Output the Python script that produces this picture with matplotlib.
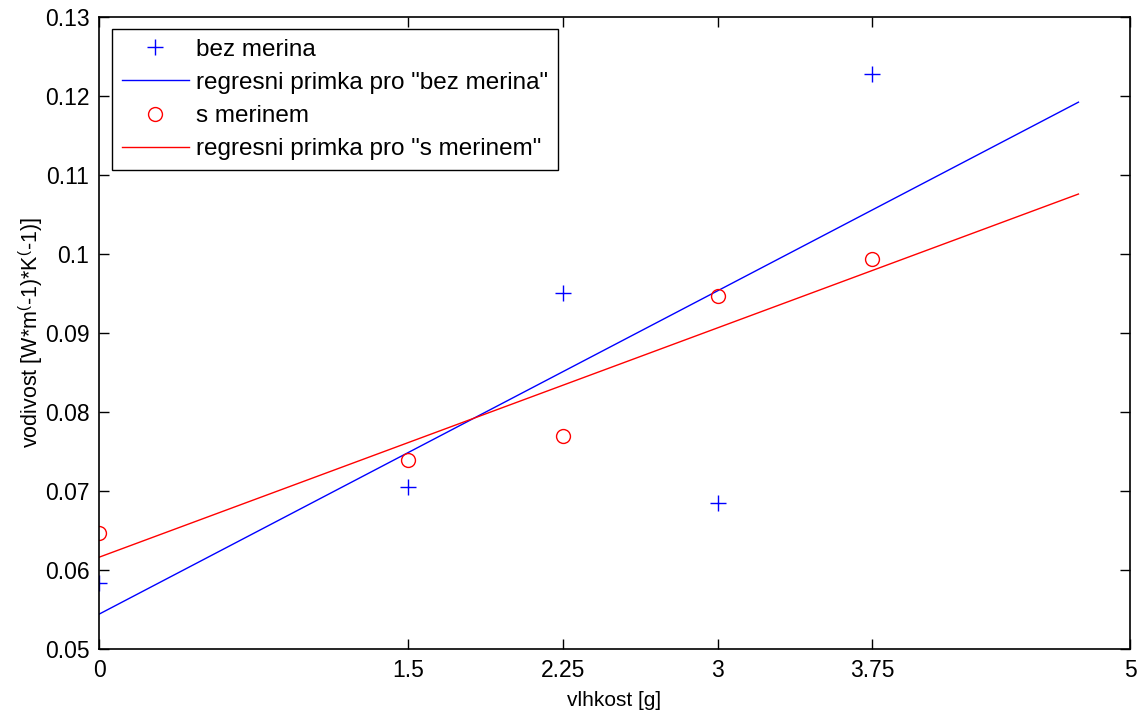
import numpy as np
import matplotlib
matplotlib.use("Agg")
import matplotlib.pyplot as plt

# Data
x = [0, 1.5, 2.25, 3, 3.75]
bez_merina = [0.0584, 0.0705, 0.0951, 0.0685, 0.1228]
s_merinem = [0.0647, 0.0739, 0.0770, 0.0947, 0.0994]
x_fit = [0, 4.75]
xticks = [0, 1.5, 2.25, 3, 3.75, 5]
xtick_labels = ["0", "1.5", "2.25", "3", "3.75", "5"]
yticks = [0.05, 0.06, 0.07, 0.08, 0.09, 0.1, 0.11, 0.12, 0.13]
ytick_labels = ["0.05", "0.06", "0.07", "0.08", "0.09", "0.1", "0.11", "0.12", "0.13"]

plt.rcParams['font.family'] = ['Liberation Sans', 'DejaVu Sans']
plt.rcParams['mathtext.default'] = 'regular'

fig = plt.figure(figsize=(11.43, 7.13), dpi=100)
ax = fig.add_axes([99/1143, 64/713, 1031/1143, 632/713])

pb = np.polyfit(x, bez_merina, 1)
ps = np.polyfit(x, s_merinem, 1)
xf = np.array(x_fit)

ax.plot(x, bez_merina, linestyle='none', marker='+', color='#0000ff', markersize=11,
        markeredgewidth=1.0, label='bez merina')
ax.plot(xf, np.polyval(pb, xf), color='#0000ff', linewidth=1.0,
        label='regresni primka pro "bez merina"')
ax.plot(x, s_merinem, linestyle='none', marker='o', markerfacecolor='none',
        markeredgecolor='#ff0000', markersize=10, markeredgewidth=1.0, label='s merinem')
ax.plot(xf, np.polyval(ps, xf), color='#ff0000', linewidth=1.0,
        label='regresni primka pro "s merinem"')

ax.set_xlim(0, 5)
ax.set_ylim(0.05, 0.13)
ax.set_xticks(xticks)
ax.set_xticklabels(xtick_labels)
ax.set_yticks(yticks)
ax.set_yticklabels(ytick_labels)
ax.tick_params(direction='in', length=7.5, width=1.0, top=True, right=True,
               labelsize=16.5, pad=7, colors='black')
for s in ax.spines.values():
    s.set_linewidth(1.2)

ax.set_xlabel('vlhkost [g]', fontsize=15, labelpad=7)
ax.set_ylabel('vodivost [W*m$^($-1)*K$^($-1)]', fontsize=15.5, labelpad=0)

leg = ax.legend(loc='upper left', bbox_to_anchor=(13/1031, 1 - 12/632),
                borderaxespad=0, fontsize=17.5, frameon=True, fancybox=False,
                edgecolor='black', framealpha=1, handlelength=2.75,
                handletextpad=0.3, labelspacing=0.46, borderpad=0.4)
leg.get_frame().set_linewidth(1.0)

fig.savefig('out.png', dpi=100)
